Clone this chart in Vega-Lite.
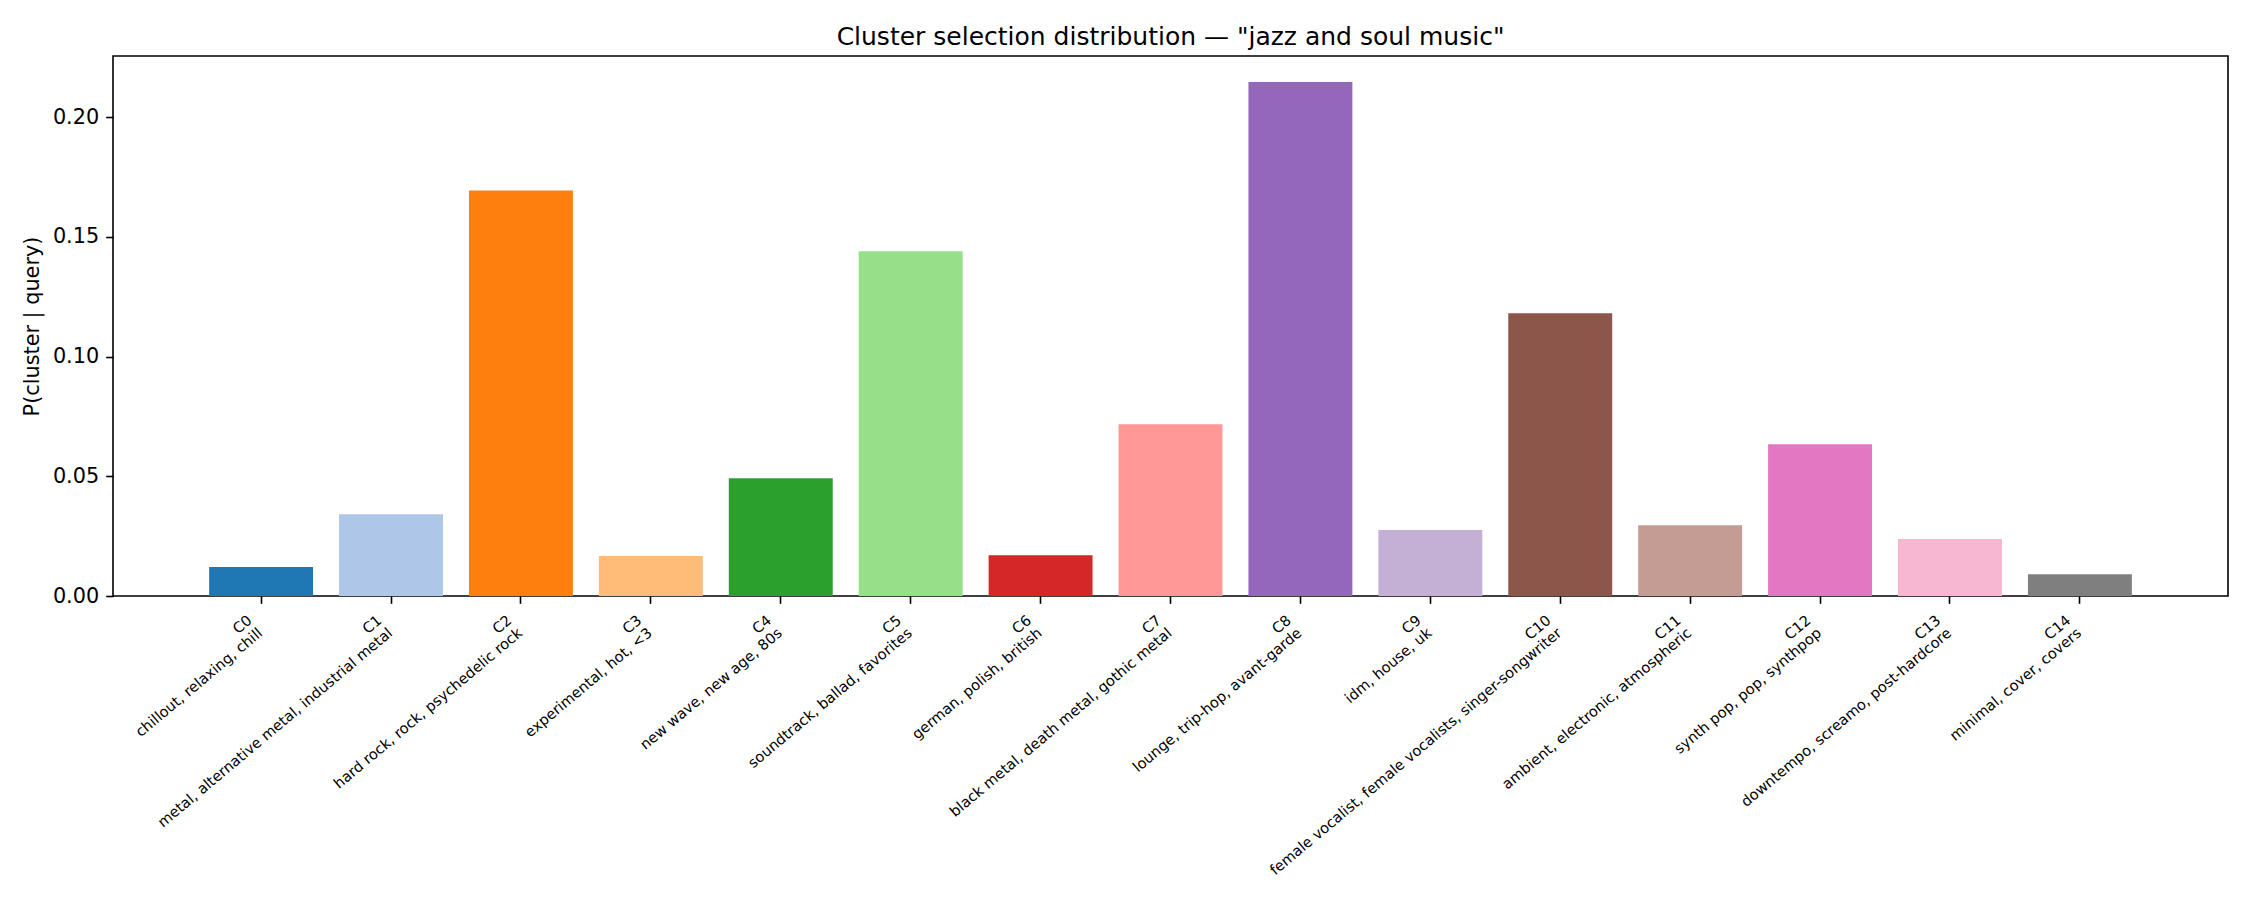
{
  "$schema": "https://vega.github.io/schema/vega-lite/v6.json",
  "autosize": "none",
  "padding": {"left": 113, "top": 56, "right": 22, "bottom": 304},
  "width": 2115,
  "height": 540,
  "background": "white",
  "config": {
    "font": "DejaVu Sans",
    "view": {"stroke": "#000000", "strokeWidth": 1.6},
    "axis": {"grid": false, "domain": false, "tickColor": "#000000", "tickWidth": 1.6, "tickSize": 7.3, "labelColor": "#000000", "titleColor": "#000000", "labelFont": "DejaVu Sans", "titleFont": "DejaVu Sans", "titleFontWeight": "normal"}
  },
  "title": {"text": "Cluster selection distribution — \"jazz and soul music\"", "fontSize": 25, "fontWeight": "normal", "font": "DejaVu Sans", "color": "#000000", "anchor": "middle", "offset": 6.5},
  "data": {"values": [
    {"label": "C0\nchillout, relaxing, chill", "cluster": "C0", "p": 0.0121},
    {"label": "C1\nmetal, alternative metal, industrial metal", "cluster": "C1", "p": 0.0342},
    {"label": "C2\nhard rock, rock, psychedelic rock", "cluster": "C2", "p": 0.1694},
    {"label": "C3\nexperimental, hot, <3", "cluster": "C3", "p": 0.0167},
    {"label": "C4\nnew wave, new age, 80s", "cluster": "C4", "p": 0.0492},
    {"label": "C5\nsoundtrack, ballad, favorites", "cluster": "C5", "p": 0.1440},
    {"label": "C6\ngerman, polish, british", "cluster": "C6", "p": 0.0170},
    {"label": "C7\nblack metal, death metal, gothic metal", "cluster": "C7", "p": 0.0718},
    {"label": "C8\nlounge, trip-hop, avant-garde", "cluster": "C8", "p": 0.2147},
    {"label": "C9\nidm, house, uk", "cluster": "C9", "p": 0.0276},
    {"label": "C10\nfemale vocalist, female vocalists, singer-songwriter", "cluster": "C10", "p": 0.1181},
    {"label": "C11\nambient, electronic, atmospheric", "cluster": "C11", "p": 0.0296},
    {"label": "C12\nsynth pop, pop, synthpop", "cluster": "C12", "p": 0.0634},
    {"label": "C13\ndowntempo, screamo, post-hardcore", "cluster": "C13", "p": 0.0238},
    {"label": "C14\nminimal, cover, covers", "cluster": "C14", "p": 0.0091}
  ]},
  "mark": {"type": "bar"},
  "encoding": {
    "x": {
      "field": "label", "type": "nominal", "sort": null,
      "scale": {"paddingInner": 0.2, "paddingOuter": 0.74},
      "axis": {"title": null, "labelAngle": -40, "labelAlign": "right", "labelBaseline": "top", "labelFontSize": 14.6, "labelPadding": 9, "labelOffset": -16, "labelLineHeight": 16.5, "labelExpr": "split(datum.value, '\\n')", "labelLimit": 0, "labelOverlap": false}
    },
    "y": {
      "field": "p", "type": "quantitative",
      "scale": {"domain": [0, 0.2256], "nice": false, "zero": true},
      "axis": {"title": "P(cluster | query)", "values": [0, 0.05, 0.1, 0.15, 0.2], "format": ".2f", "labelFontSize": 20.8, "titleFontSize": 20.8, "labelPadding": 7, "titlePadding": 10}
    },
    "color": {
      "field": "cluster", "type": "nominal", "legend": null,
      "scale": {
        "domain": ["C0","C1","C2","C3","C4","C5","C6","C7","C8","C9","C10","C11","C12","C13","C14"],
        "range": ["#1f77b4","#aec7e8","#ff7f0e","#ffbb78","#2ca02c","#98df8a","#d62728","#ff9896","#9467bd","#c5b0d5","#8c564b","#c49c94","#e377c2","#f7b6d2","#7f7f7f"]
      }
    }
  }
}
